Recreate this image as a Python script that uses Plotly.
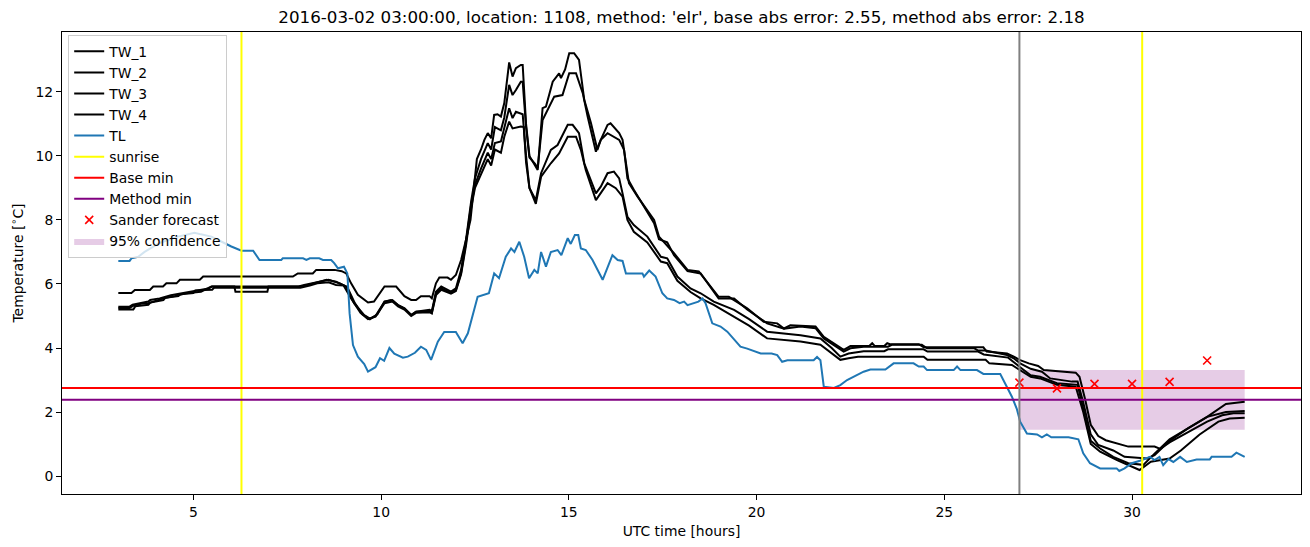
import plotly.graph_objects as go

# ---------------- data ----------------
TL_HOURS = [3.00, 3.30, 3.35, 3.53, 3.70, 3.88, 4.10, 4.59, 5.03, 5.20, 5.48, 5.70, 6.01, 6.28, 6.59, 6.76,
            7.34, 7.38, 7.92, 8.01, 8.10, 8.35, 8.45, 8.67, 8.75, 8.85, 9.01, 9.10, 9.16, 9.25, 9.38, 9.55,
            9.65, 9.85, 9.97, 10.08, 10.22, 10.35, 10.58, 10.71, 10.90, 11.06, 11.20, 11.33, 11.51, 11.68,
            11.99, 12.17, 12.31, 12.57, 12.87, 13.01, 13.14, 13.32, 13.46, 13.55, 13.68, 13.81, 13.94, 14.08,
            14.17, 14.26, 14.39, 14.52, 14.70, 14.80, 14.97, 15.05, 15.16, 15.25, 15.32, 15.45, 15.63, 15.90,
            16.03, 16.16, 16.30, 16.43, 16.52, 16.96, 17.00, 17.14, 17.31, 17.49, 17.62, 17.80, 17.95, 18.07,
            18.16, 18.45, 18.56, 18.64, 18.82, 19.04, 19.22, 19.40, 19.57, 19.75, 20.11, 20.40, 20.55, 20.68,
            20.82, 21.52, 21.61, 21.70, 21.79, 22.06, 22.23, 22.41, 22.68, 22.85, 23.03, 23.43, 23.65, 24.18,
            24.32, 24.45, 24.54, 25.25, 25.34, 25.43, 25.87, 26.04, 26.49, 26.67, 26.80, 26.93, 27.02, 27.20,
            27.47, 27.60, 27.73, 27.85, 28.31, 28.57, 28.70, 28.88, 29.15, 29.59, 29.66, 29.80, 29.99, 30.21,
            30.48, 30.60, 30.73, 30.83, 30.97, 31.10, 31.28, 31.46, 31.72, 32.07, 32.12, 32.65, 32.78, 33.00]
TL_VALUES = [6.72, 6.72, 6.80, 6.85, 7.00, 7.12, 7.28, 7.48, 7.60, 7.55, 7.48, 7.35, 7.17, 7.04, 7.04, 6.75,
             6.75, 6.80, 6.80, 6.75, 6.80, 6.80, 6.75, 6.75, 6.65, 6.49, 6.54, 6.33, 5.08, 4.09, 3.73, 3.50,
             3.26, 3.40, 3.68, 3.60, 4.00, 3.82, 3.70, 3.73, 3.85, 4.04, 3.94, 3.63, 4.20, 4.50,
             4.50, 4.15, 4.46, 5.60, 5.71, 6.33, 6.18, 6.85, 7.11, 7.00, 7.32, 6.85, 6.18, 6.44,
             6.33, 7.00, 6.54, 7.00, 7.06, 6.90, 7.43, 7.25, 7.53, 7.53, 7.11, 7.06, 6.75, 6.13,
             6.54, 6.90, 6.75, 6.72, 6.33, 6.33, 6.23, 6.42, 6.23, 5.71, 5.55, 5.50, 5.40, 5.45,
             5.34, 5.45, 5.55, 5.40, 4.77, 4.67, 4.51, 4.25, 4.04, 3.98, 3.83, 3.83, 3.78, 3.57,
             3.62, 3.62, 3.72, 3.62, 2.79, 2.75, 2.84, 3.00, 3.16, 3.26, 3.33, 3.33, 3.52, 3.52,
             3.42, 3.42, 3.31, 3.31, 3.42, 3.31, 3.31, 3.19, 3.19, 2.79, 2.48, 2.10, 1.70, 1.33,
             1.30, 1.21, 1.30, 1.21, 1.21, 1.15, 0.71, 0.40, 0.24, 0.24, 0.16, 0.24, 0.40, 0.48,
             0.60, 0.50, 0.60, 0.34, 0.53, 0.44, 0.60, 0.44, 0.52, 0.52, 0.60, 0.60, 0.73, 0.60]

TW1_HOURS = [3.00, 3.35, 3.44, 3.84, 3.93, 4.19, 4.28, 4.55, 4.64, 5.17, 5.26, 7.65, 7.78, 8.18, 8.27, 8.76,
             8.95, 9.07, 9.20, 9.38, 9.65, 9.81, 10.09, 10.40, 10.62, 10.80, 10.93, 11.06, 11.29, 11.35, 11.46,
             11.55, 11.77, 11.86, 11.99, 12.13, 12.26, 12.38, 12.47, 12.55, 12.66, 12.75, 12.84, 12.93, 13.01,
             13.10, 13.19, 13.28, 13.41, 13.50, 13.59, 13.72, 13.77, 13.86, 13.95, 14.10, 14.17, 14.30, 14.39,
             14.57, 14.74, 14.79, 14.90, 15.01, 15.14, 15.27, 15.41, 15.59, 15.76, 15.85, 16.03, 16.11, 16.34,
             16.43, 16.56, 16.60, 16.83, 17.27, 17.40, 17.80, 18.16, 18.46, 18.99, 19.26, 19.75, 20.19, 20.55,
             20.73, 20.90, 21.57, 21.79, 22.06, 22.32, 22.50, 23.00, 23.08, 23.15, 23.40, 23.48, 23.55, 24.32,
             24.45, 26.04, 26.13, 26.67, 26.85, 27.02, 27.25, 27.50, 27.65, 28.00, 28.50, 28.60, 28.75, 28.90,
             29.10, 29.30, 29.60, 29.90, 30.60, 30.75, 31.00, 31.30, 31.60, 32.00, 32.40, 32.70, 33.00]
TW1_VALUES = [5.72, 5.72, 5.81, 5.81, 5.92, 5.92, 6.02, 6.02, 6.13, 6.13, 6.23, 6.23, 6.33, 6.33, 6.44, 6.44,
              6.40, 6.33, 6.02, 5.66, 5.42, 5.45, 5.92, 5.92, 5.62, 5.50, 5.50, 5.62, 5.62, 5.55, 6.02,
              6.20, 6.20, 6.13, 6.28, 6.75, 7.38, 8.00, 9.00, 9.90, 10.20, 10.50, 10.71, 10.55, 11.28,
              11.30, 11.23, 11.65, 12.92, 12.48, 12.74, 12.84, 12.84, 11.00, 10.00, 9.70, 9.56, 11.49, 11.54,
              12.32, 12.58, 12.43, 12.70, 13.21, 13.21, 13.00, 11.75, 11.02, 10.19, 10.50, 10.97, 11.02, 10.71,
              10.50, 9.46, 9.15, 8.73, 8.00, 7.48, 6.96, 6.44, 6.39, 5.60, 5.60, 5.24, 4.82, 4.77,
              4.61, 4.71, 4.67, 4.35, 4.15, 3.94, 4.06, 4.06, 4.15, 4.06, 4.06, 4.15, 4.12, 4.12,
              4.02, 4.02, 3.89, 3.83, 3.73, 3.62, 3.52, 3.44, 3.31, 3.28, 3.23, 3.10, 2.40, 1.60,
              1.25, 1.12, 1.02, 0.92, 0.92, 0.85, 1.05, 1.25, 1.45, 1.70, 1.90, 1.96, 1.96]

TW2_HOURS = [3.00, 3.30, 3.38, 3.55, 3.80, 3.85, 4.10, 4.40, 4.90, 5.40, 5.50, 7.80, 7.95, 8.15, 8.40, 8.60,
             8.90, 9.07, 9.28, 9.55, 9.70, 9.85, 10.09, 10.26, 10.45, 10.62, 10.80, 10.93, 11.29, 11.35, 11.46,
             11.60, 11.86, 11.99, 12.13, 12.26, 12.40, 12.50, 12.66, 12.84, 12.93, 13.03, 13.19, 13.28, 13.41,
             13.50, 13.59, 13.72, 13.77, 13.86, 13.95, 14.10, 14.17, 14.30, 14.61, 14.83, 15.01, 15.19, 15.37,
             15.50, 15.72, 15.85, 16.03, 16.34, 16.47, 16.56, 16.73, 17.27, 17.40, 17.62, 17.80, 18.16, 18.51,
             18.99, 19.40, 19.75, 20.28, 20.73, 21.17, 21.57, 21.79, 22.06, 22.32, 22.50, 22.85, 23.50, 23.60,
             24.40, 24.54, 25.80, 25.90, 26.10, 26.67, 26.85, 27.02, 27.30, 27.60, 27.82, 28.40, 28.55, 28.70,
             28.90, 29.10, 29.50, 29.80, 30.40, 30.60, 31.00, 31.50, 32.00, 32.50, 33.00]
TW2_VALUES = [5.29, 5.29, 5.35, 5.40, 5.45, 5.50, 5.55, 5.65, 5.76, 5.86, 5.92, 5.92, 5.97, 6.02, 6.07, 6.13,
              6.02, 5.92, 5.40, 5.03, 4.92, 5.00, 5.45, 5.50, 5.34, 5.24, 5.03, 5.13, 5.19, 5.15, 5.76,
              5.92, 5.76, 5.86, 6.44, 7.38, 8.60, 9.30, 9.90, 10.40, 10.20, 10.90, 10.80, 11.20, 12.22,
              11.90, 12.06, 12.32, 12.32, 10.90, 9.95, 9.75, 9.62, 11.12, 11.85, 11.90, 12.58, 12.58, 11.96,
              11.23, 10.13, 10.50, 10.71, 10.50, 10.19, 9.30, 8.94, 7.90, 7.40, 7.30, 6.90, 6.40, 6.33,
              5.55, 5.55, 5.20, 4.77, 4.60, 4.67, 4.62, 4.30, 4.10, 3.89, 3.99, 4.04, 4.04, 4.10,
              4.10, 3.99, 3.99, 3.92, 3.92, 3.78, 3.68, 3.52, 3.35, 3.26, 3.05, 2.95, 2.95, 2.30,
              1.30, 0.97, 0.80, 0.60, 0.55, 0.65, 1.10, 1.50, 1.85, 2.00, 2.03]

TW3_HOURS = [3.00, 3.30, 3.40, 3.60, 3.80, 4.00, 4.20, 4.50, 4.80, 5.20, 5.40, 5.48, 6.09, 6.12, 6.97, 7.00,
             7.90, 8.05, 8.30, 8.55, 8.80, 9.00, 9.10, 9.30, 9.50, 9.70, 9.90, 10.09, 10.30, 10.45, 10.62,
             10.80, 10.93, 11.29, 11.35, 11.46, 11.60, 11.86, 11.99, 12.13, 12.26, 12.40, 12.50, 12.66, 12.84,
             12.93, 13.03, 13.19, 13.28, 13.41, 13.50, 13.59, 13.77, 13.86, 13.95, 14.12, 14.26, 14.52, 14.70,
             14.97, 15.10, 15.27, 15.41, 15.72, 15.85, 16.03, 16.20, 16.34, 16.43, 16.56, 16.73, 17.09, 17.45,
             17.62, 17.89, 18.24, 18.51, 18.86, 19.40, 19.80, 20.28, 20.70, 21.17, 21.70, 22.00, 22.23, 22.45,
             22.85, 23.40, 23.50, 24.45, 24.55, 25.90, 26.05, 26.70, 27.02, 27.30, 27.55, 28.00, 28.55, 28.70,
             28.90, 29.15, 29.50, 29.90, 30.30, 30.60, 31.00, 31.50, 32.00, 32.50, 33.00]
TW3_VALUES = [5.25, 5.25, 5.32, 5.38, 5.40, 5.48, 5.55, 5.62, 5.71, 5.76, 5.86, 5.92, 5.92, 5.76, 5.76, 5.92,
              5.92, 5.97, 6.07, 6.13, 6.07, 5.97, 5.90, 5.40, 5.05, 4.90, 5.05, 5.45, 5.50, 5.34, 5.24,
              5.03, 5.13, 5.15, 5.10, 5.70, 5.86, 5.72, 5.80, 6.35, 7.30, 8.50, 9.10, 9.60, 10.10,
              9.90, 10.40, 10.45, 10.90, 11.49, 11.18, 11.38, 11.30, 10.00, 9.00, 8.62, 9.46, 10.19, 10.34,
              10.97, 10.97, 10.71, 9.77, 8.83, 9.04, 9.46, 9.51, 9.30, 8.83, 8.10, 7.84, 7.48, 6.85,
              6.80, 6.23, 5.86, 5.71, 5.45, 5.19, 4.90, 4.51, 4.45, 4.40, 4.30, 4.00, 3.73, 3.83,
              3.90, 3.90, 3.96, 3.96, 3.89, 3.89, 3.80, 3.70, 3.40, 3.15, 3.10, 2.90, 2.85, 2.10,
              1.10, 0.86, 0.60, 0.40, 0.35, 0.70, 1.15, 1.50, 1.85, 2.25, 2.32]

TW4_HOURS = [3.00, 3.40, 3.45, 3.80, 3.85, 4.20, 4.25, 4.60, 4.65, 5.00, 5.05, 5.50, 5.55, 7.85, 8.10, 8.30,
             8.60, 8.80, 9.00, 9.20, 9.45, 9.65, 9.85, 10.09, 10.30, 10.45, 10.62, 10.80, 10.93, 11.29, 11.35,
             11.46, 11.60, 11.86, 11.99, 12.13, 12.26, 12.40, 12.50, 12.66, 12.84, 12.93, 13.03, 13.19, 13.28,
             13.41, 13.50, 13.72, 13.80, 13.86, 13.95, 14.12, 14.26, 14.52, 14.74, 14.97, 15.19, 15.32, 15.45,
             15.72, 15.85, 16.03, 16.25, 16.43, 16.56, 16.73, 17.09, 17.45, 17.62, 17.89, 18.24, 18.51, 18.86,
             19.40, 19.80, 20.28, 20.70, 21.17, 21.70, 22.00, 22.23, 22.45, 22.70, 24.45, 24.55, 26.10, 26.20,
             26.80, 27.02, 27.30, 27.55, 28.00, 28.50, 28.70, 28.90, 29.15, 29.60, 29.90, 30.20, 30.50, 31.00,
             31.30, 31.80, 32.30, 32.60, 33.00]
TW4_VALUES = [5.20, 5.20, 5.30, 5.35, 5.42, 5.50, 5.57, 5.62, 5.68, 5.72, 5.80, 5.82, 5.88, 5.88, 5.95, 6.02,
              6.05, 5.97, 5.95, 5.55, 5.10, 4.90, 4.98, 5.40, 5.45, 5.30, 5.20, 5.00, 5.10, 5.12, 5.08,
              5.65, 5.82, 5.70, 5.78, 6.30, 7.20, 8.40, 9.00, 9.40, 9.90, 9.70, 10.20, 10.10, 10.60,
              11.07, 10.86, 10.92, 10.90, 9.80, 9.00, 8.50, 9.35, 9.77, 10.08, 10.60, 10.60, 10.19, 9.56,
              8.62, 8.83, 9.15, 8.99, 8.73, 8.00, 7.63, 7.30, 6.70, 6.65, 6.10, 5.75, 5.55, 5.35,
              4.98, 4.70, 4.30, 4.25, 4.20, 4.10, 3.85, 3.63, 3.68, 3.73, 3.73, 3.63, 3.63, 3.52,
              3.47, 3.30, 3.10, 3.05, 2.85, 2.79, 2.00, 1.00, 0.76, 0.50, 0.35, 0.19, 0.45, 0.55,
              0.80, 1.30, 1.70, 1.80, 1.82]

SUNRISE_HOURS = [6.28, 30.27]
FORECAST_START = 27.0
BASE_MIN = 2.75
METHOD_MIN = 2.38
SANDER_HOURS = [27, 28, 29, 30, 31, 32]
SANDER_VALUES = [2.92, 2.74, 2.88, 2.88, 2.94, 3.61]
CONF_HOURS = [27.0, 33.0]
CONF_LOW = 1.45
CONF_HIGH = 3.31

X_RANGE = [1.5, 34.5]
Y_RANGE = [-0.56, 13.87]
X_TICKS = [5, 10, 15, 20, 25, 30]
Y_TICKS = [0, 2, 4, 6, 8, 10, 12]

TITLE = ("2016-03-02 03:00:00, location: 1108, method: 'elr', "
         "base abs error: 2.55, method abs error: 2.18")

# ---------------- figure ----------------
FONT = "DejaVu Sans"
FS = 13.9
LW = 2.0
fig = go.Figure()

# confidence band (drawn first, listed last in legend)
fig.add_trace(go.Scatter(
    x=[CONF_HOURS[0], CONF_HOURS[1], CONF_HOURS[1], CONF_HOURS[0]],
    y=[CONF_LOW, CONF_LOW, CONF_HIGH, CONF_HIGH],
    fill="toself", fillcolor="rgba(128,0,128,0.2)", mode="lines",
    line=dict(width=0, color="rgba(128,0,128,0)"),
    name="95% confidence", legendrank=10, hoverinfo="skip"))

tw = [("TW_1", TW1_HOURS, TW1_VALUES), ("TW_2", TW2_HOURS, TW2_VALUES),
      ("TW_3", TW3_HOURS, TW3_VALUES), ("TW_4", TW4_HOURS, TW4_VALUES)]
for i, (name, xs, ys) in enumerate(tw):
    fig.add_trace(go.Scatter(x=xs, y=ys, mode="lines", name=name,
                             line=dict(color="black", width=LW), legendrank=i + 1))

fig.add_trace(go.Scatter(x=TL_HOURS, y=TL_VALUES, mode="lines", name="TL",
                         line=dict(color="#1f77b4", width=LW), legendrank=5))

sx, sy = [], []
for h in SUNRISE_HOURS:
    sx += [h, h, None]
    sy += [Y_RANGE[0], Y_RANGE[1], None]
fig.add_trace(go.Scatter(x=sx, y=sy, mode="lines", name="sunrise",
                         line=dict(color="#ffff00", width=LW), legendrank=6))

fig.add_trace(go.Scatter(x=X_RANGE, y=[BASE_MIN, BASE_MIN], mode="lines", name="Base min",
                         line=dict(color="#ff0000", width=LW), legendrank=7))
fig.add_trace(go.Scatter(x=X_RANGE, y=[METHOD_MIN, METHOD_MIN], mode="lines", name="Method min",
                         line=dict(color="#800080", width=LW), legendrank=8))

fig.add_trace(go.Scatter(x=SANDER_HOURS, y=SANDER_VALUES, mode="markers", name="Sander forecast",
                         marker=dict(symbol="x-thin", size=8, color="#ff0000",
                                     line=dict(color="#ff0000", width=1.6)),
                         legendrank=9))

fig.add_trace(go.Scatter(x=[FORECAST_START, FORECAST_START], y=Y_RANGE, mode="lines",
                         showlegend=False, line=dict(color="#808080", width=LW)))

fig.update_layout(
    width=1310, height=547,
    margin=dict(l=62, r=9, t=32, b=53),
    paper_bgcolor="white", plot_bgcolor="white",
    font=dict(family=FONT, size=FS, color="black"),
    title=dict(text=TITLE, x=0.5, xref="paper", xanchor="center",
               y=1 - 17.5 / 547, yref="container", yanchor="middle",
               font=dict(family=FONT, size=16.7, color="black")),
    showlegend=True,
    legend=dict(x=0.005, y=0.994, xanchor="left", yanchor="top",
                bgcolor="rgba(255,255,255,0.8)", bordercolor="#cccccc", borderwidth=1,
                font=dict(family=FONT, size=FS, color="black"),
                tracegroupgap=0),
)
fig.update_xaxes(range=X_RANGE, tickvals=X_TICKS, showgrid=False, zeroline=False,
                 showline=True, mirror=True, linecolor="black", linewidth=1,
                 ticks="outside", ticklen=5, tickcolor="black", tickwidth=1,
                 title=dict(text="UTC time [hours]", standoff=7,
                            font=dict(family=FONT, size=FS)))
fig.update_yaxes(range=Y_RANGE, tickvals=Y_TICKS, showgrid=False, zeroline=False,
                 showline=True, mirror=True, linecolor="black", linewidth=1,
                 ticks="outside", ticklen=5, tickcolor="black", tickwidth=1,
                 title=dict(text="Temperature [<sup>∘</sup>C]", standoff=8,
                            font=dict(family=FONT, size=FS)))

fig.write_html("out.html")
